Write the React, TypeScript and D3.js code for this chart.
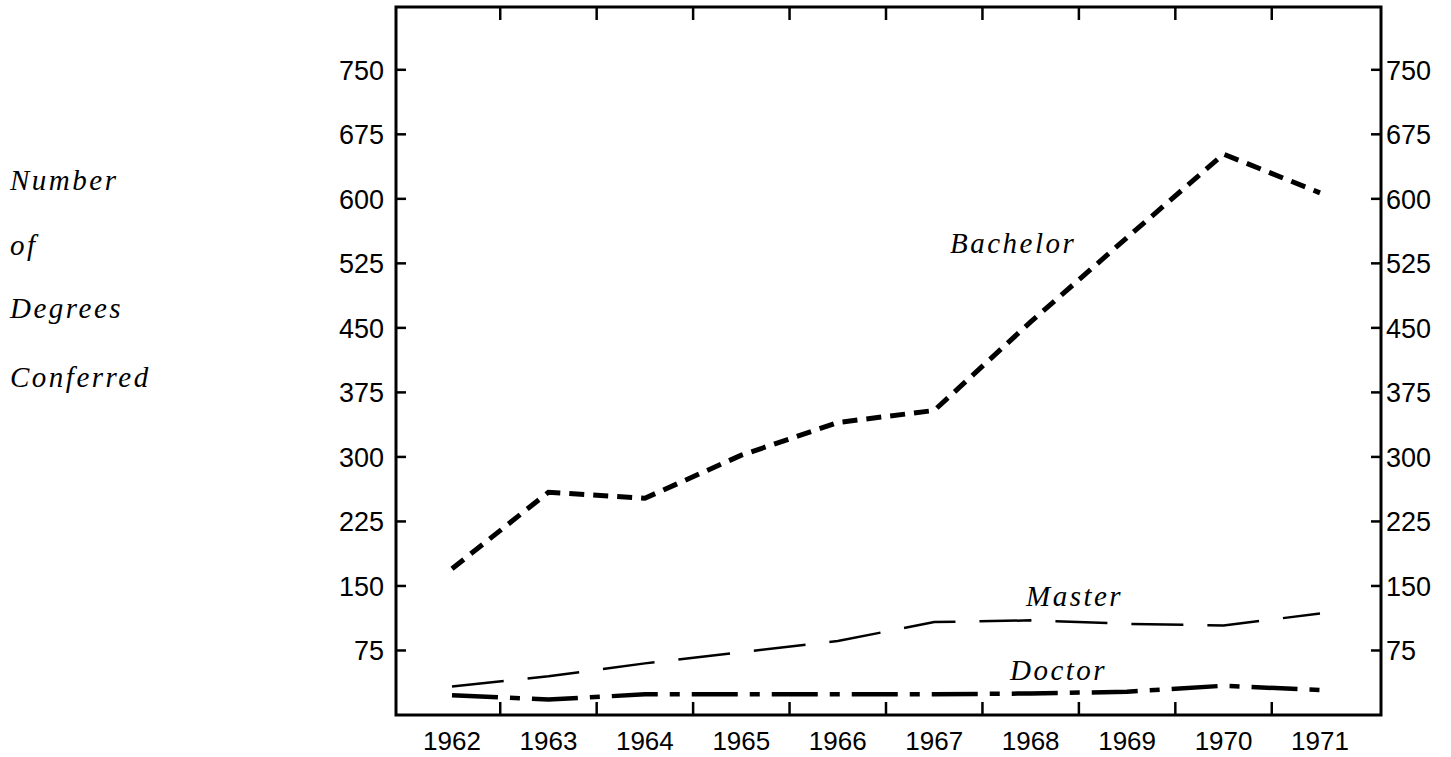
import * as d3 from "d3";

// degrees conferred per year
const years = [1962, 1963, 1964, 1965, 1966, 1967, 1968, 1969, 1970, 1971];
const bachelor = [170, 259, 252, 302, 340, 354, 457, 555, 652, 607];
const master = [33, 45, 60, 73, 86, 108, 110, 106, 104, 118];
const doctor = [23, 18, 24, 24, 24, 24, 25, 27, 34, 29];
const yTicks = [75, 150, 225, 300, 375, 450, 525, 600, 675, 750];
const leftTitle = ["Number", "of", "Degrees", "Conferred"];

const W = 1451;
const H = 757;
const frame = { left: 396, right: 1381, top: 7, bottom: 715 };
const sans = "'Liberation Sans', Arial, sans-serif";
const type = "'Liberation Serif', 'Times New Roman', serif";

export default function App() {
  const x = d3.scalePoint<number>().domain(years).range([452, 1320]);
  const y = d3.scaleLinear().domain([0, 823]).range([frame.bottom, frame.top]);
  const step = x.step();
  const bounds = years.slice(0, -1).map((yr) => (x(yr) as number) + step / 2);

  const line = d3
    .line<number>()
    .x((_, i) => x(years[i]) as number)
    .y((v) => y(v));

  return (
    <svg
      width={W}
      height={H}
      style={{ position: "absolute", left: 0, top: 0, display: "block", background: "#fff" }}
    >
      {/* frame */}
      <rect
        x={frame.left}
        y={frame.top}
        width={frame.right - frame.left}
        height={frame.bottom - frame.top}
        fill="none"
        stroke="#000"
        strokeWidth={3}
      />

      {/* y ticks both sides */}
      {yTicks.map((t) => (
        <g key={t}>
          <line x1={frame.left} x2={frame.left + 10} y1={y(t)} y2={y(t)} stroke="#000" strokeWidth={2.5} />
          <line x1={frame.right - 10} x2={frame.right} y1={y(t)} y2={y(t)} stroke="#000" strokeWidth={2.5} />
          <text x={384} y={y(t)} dy="0.36em" textAnchor="end" fontFamily={sans} fontSize={27}>
            {t}
          </text>
          <text x={1386} y={y(t)} dy="0.36em" textAnchor="start" fontFamily={sans} fontSize={27}>
            {t}
          </text>
        </g>
      ))}

      {/* x ticks between years, top and bottom */}
      {bounds.map((b, i) => (
        <g key={i}>
          <line x1={b} x2={b} y1={frame.top} y2={frame.top + 13} stroke="#000" strokeWidth={2.5} />
          <line x1={b} x2={b} y1={frame.bottom} y2={frame.bottom - 13} stroke="#000" strokeWidth={2.5} />
        </g>
      ))}
      {years.map((yr) => (
        <text key={yr} x={x(yr)} y={750} textAnchor="middle" fontFamily={sans} fontSize={26}>
          {yr}
        </text>
      ))}

      {/* series */}
      <path d={line(bachelor) ?? ""} fill="none" stroke="#000" strokeWidth={5} strokeDasharray="15 9" />
      <path d={line(master) ?? ""} fill="none" stroke="#000" strokeWidth={2.5} strokeDasharray="52 24" />
      <path
        d={line(doctor) ?? ""}
        fill="none"
        stroke="#000"
        strokeWidth={4.5}
        strokeDasharray="46 12 10 12"
      />

      {/* series labels */}
      <g fontFamily={type} fontStyle="italic" fontSize={29} letterSpacing={2.5}>
        <text x={950} y={253}>Bachelor</text>
        <text x={1026} y={606}>Master</text>
        <text x={1010} y={680}>Doctor</text>
      </g>

      {/* left title */}
      <g fontFamily={type} fontStyle="italic" fontSize={29} letterSpacing={2.5}>
        {leftTitle.map((s, i) => (
          <text key={s} x={10} y={[190, 255, 318, 387][i]}>
            {s}
          </text>
        ))}
      </g>
    </svg>
  );
}
